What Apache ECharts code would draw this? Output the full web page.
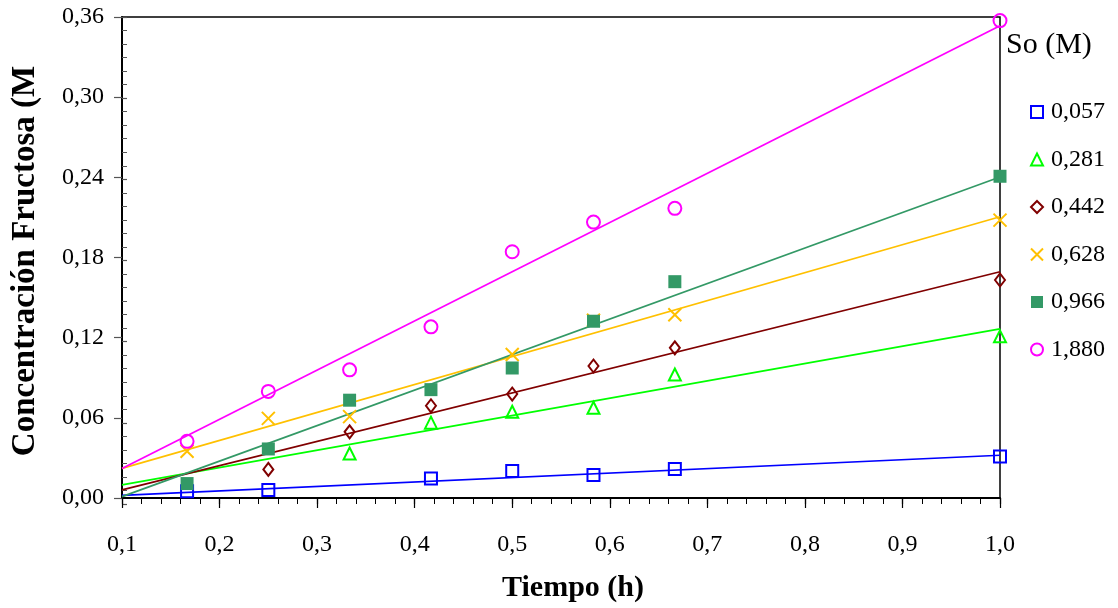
<!DOCTYPE html>
<html>
<head>
<meta charset="utf-8">
<script src="https://cdn.jsdelivr.net/npm/echarts@6/dist/echarts.min.js"></script>
<style>
  html, body { margin: 0; padding: 0; background: #fff; }
  #chart { width: 1118px; height: 608px; }
</style>
</head>
<body>
<div id="chart"></div>
<script>
// Sampling times (h)
const times = [0.1667, 0.25, 0.3333, 0.4167, 0.5, 0.5833, 0.6667, 1.0];

// Measured fructose concentration (M) for each initial substrate concentration
const c0057 = [0.005, 0.006, null, 0.0146, 0.0202, 0.0172, 0.0217, 0.031];
const c0281 = [null, null, 0.0333, 0.0564, 0.0645, 0.0675, 0.0924, 0.121];
const c0442 = [null, 0.0214, 0.0495, 0.069, 0.0778, 0.0988, 0.1124, 0.1632];
const c0628 = [0.035, 0.0596, 0.0609, null, 0.1074, 0.133, 0.1372, 0.208];
const c0966 = [0.0108, 0.0367, 0.0732, 0.0811, 0.0973, 0.1323, 0.1619, 0.2408];
const c1880 = [0.0424, 0.0798, 0.0959, 0.1281, 0.1843, 0.2065, 0.2168, 0.3573];

// Linear trend lines: values at the ends of the time axis
const fitX = [0.1, 1.0];
const fitStart = [0.0019, 0.0098, 0.0061, 0.0222, 0.001, 0.022];
const fitEnd = [0.032, 0.1266, 0.1693, 0.2105, 0.2403, 0.3535];

const seriesNames = ['0,057', '0,281', '0,442', '0,628', '0,966', '1,880'];
const seriesData = [c0057, c0281, c0442, c0628, c0966, c1880];
const colors = ['#0000FF', '#00FF00', '#800000', '#FFC000', '#339966', '#FF00FF'];

const FONT = 'Liberation Serif';

const markers = [
  { symbol: 'rect', size: 12, hollow: true },
  { symbol: 'triangle', size: [12, 12], hollow: true },
  { symbol: 'diamond', size: [10, 13], hollow: true },
  { symbol: 'path://M0,0L10,10M10,0L0,10', size: 13, hollow: true },
  { symbol: 'rect', size: 13, hollow: false },
  { symbol: 'circle', size: 13, hollow: true }
];

const toPairs = arr => times.map((t, i) => [t, arr[i]]).filter(p => p[1] !== null);

const series = [];
seriesNames.forEach((name, i) => {
  series.push({
    name: 'fit ' + name,
    type: 'line',
    xAxisIndex: 0,
    yAxisIndex: 0,
    data: [[fitX[0], fitStart[i]], [fitX[1], fitEnd[i]]],
    showSymbol: false,
    symbol: 'none',
    lineStyle: { color: colors[i], width: 1.7 },
    silent: true,
    z: 2
  });
});
seriesNames.forEach((name, i) => {
  const m = markers[i];
  series.push({
    name: name,
    type: 'scatter',
    xAxisIndex: 0,
    yAxisIndex: 0,
    data: toPairs(seriesData[i]),
    symbol: m.symbol,
    symbolSize: m.size,
    itemStyle: m.hollow
      ? { color: 'rgba(255,255,255,0)', borderColor: colors[i], borderWidth: 2, opacity: 1 }
      : { color: colors[i], borderWidth: 0, opacity: 1 },
    z: 3
  });
});

const commaFmt = d => v => v.toFixed(d).replace('.', ',');

const labelStyle = { color: '#000', fontFamily: FONT, fontSize: 24 };

const option = {
  animation: false,
  backgroundColor: '#fff',
  title: {
    text: 'So (M)',
    left: 1001,
    top: 25,
    textStyle: { fontFamily: FONT, fontSize: 30, fontWeight: 'normal', color: '#000' }
  },
  legend: {
    data: seriesNames,
    orient: 'vertical',
    left: 1025,
    top: 95,
    itemWidth: 12,
    itemHeight: 12,
    itemGap: 23.5,
    textStyle: { fontFamily: FONT, fontSize: 24, color: '#000', padding: [0, 0, 0, 3] },
    selectedMode: false
  },
  grid: [
    { left: 122, right: 118, top: 17, bottom: 104, show: true, borderColor: '#000', borderWidth: 1.5, containLabel: false },
    { left: 122, right: 118, top: 17, bottom: 104, show: false, containLabel: false }
  ],
  xAxis: [
    {
      gridIndex: 0,
      type: 'value',
      min: 0.1,
      max: 1.0,
      interval: 0.1,
      axisLine: { show: true, onZero: false, lineStyle: { color: '#000', width: 2 } },
      axisTick: { show: true, inside: false, length: 10, lineStyle: { color: '#000', width: 1.2 } },
      axisLabel: Object.assign({ margin: 35, formatter: commaFmt(1) }, labelStyle),
      splitLine: { show: false },
      name: 'Tiempo (h)',
      nameLocation: 'middle',
      nameGap: 75,
      nameTextStyle: { fontFamily: FONT, fontSize: 30, fontWeight: 'bold', color: '#000', padding: [0, 0, 0, 24] }
    },
    {
      gridIndex: 1,
      type: 'value',
      min: 0.1,
      max: 1.0,
      interval: 0.1,
      axisLine: { show: false, onZero: false },
      axisTick: { show: true, inside: true, length: 6, lineStyle: { color: '#000', width: 1.2 } },
      minorTick: { show: true, splitNumber: 5, length: 5, lineStyle: { color: '#000', width: 1 } },
      axisLabel: { show: false },
      splitLine: { show: false }
    }
  ],
  yAxis: [
    {
      gridIndex: 0,
      type: 'value',
      min: 0,
      max: 0.36,
      interval: 0.06,
      axisLine: { show: true, onZero: false, lineStyle: { color: '#000', width: 2 } },
      axisTick: { show: true, inside: false, length: 8, lineStyle: { color: '#555', width: 1.2 } },
      axisLabel: Object.assign({ margin: 18, formatter: commaFmt(2) }, labelStyle),
      splitLine: { show: false },
      name: 'Concentración Fructosa (M',
      nameLocation: 'middle',
      nameGap: 80,
      nameTextStyle: { fontFamily: FONT, fontSize: 33, fontWeight: 'bold', color: '#000', padding: [0, 7, 0, 0] }
    },
    {
      gridIndex: 1,
      type: 'value',
      min: 0,
      max: 0.36,
      interval: 0.06,
      axisLine: { show: false, onZero: false },
      axisTick: { show: true, inside: true, length: 5, lineStyle: { color: '#555', width: 1.2 } },
      minorTick: { show: true, splitNumber: 6, length: 5, lineStyle: { color: '#555', width: 1 } },
      axisLabel: { show: false },
      splitLine: { show: false }
    }
  ],
  series: series
};

const chart = echarts.init(document.getElementById('chart'), null, { renderer: 'canvas' });
chart.setOption(option);
</script>
</body>
</html>
